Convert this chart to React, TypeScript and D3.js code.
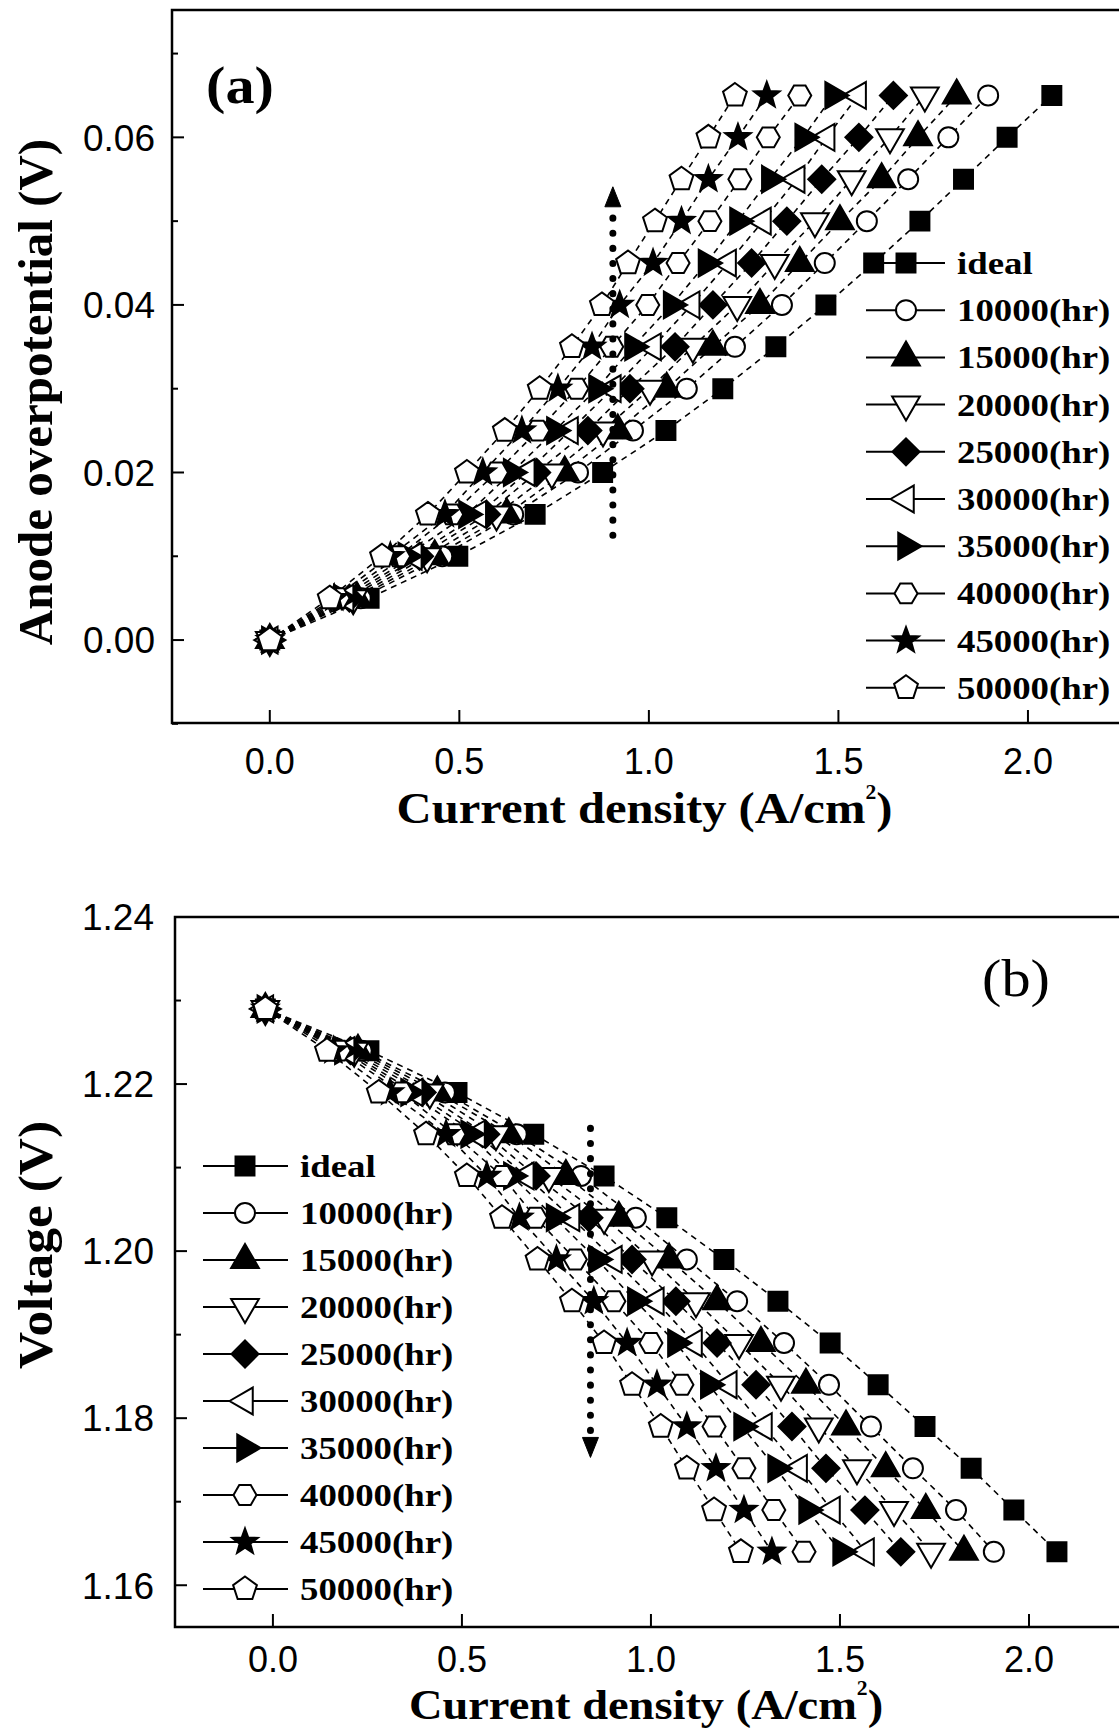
import * as d3 from "d3";

// ---- data ----
const seriesLabels = [
  "ideal",
  "10000(hr)",
  "15000(hr)",
  "20000(hr)",
  "25000(hr)",
  "30000(hr)",
  "35000(hr)",
  "40000(hr)",
  "45000(hr)",
  "50000(hr)",
];

// (a) anode overpotential levels (V)
const overpotentialLevels = [0, 0.005, 0.01, 0.015, 0.02, 0.025, 0.03, 0.035, 0.04, 0.045, 0.05, 0.055, 0.06, 0.065];

// (a) current density (A/cm2) of each series at those levels
const anodeIdeal = [0, 0.262, 0.496, 0.7, 0.878, 1.045, 1.195, 1.335, 1.467, 1.593, 1.715, 1.83, 1.945, 2.063];
const anode10000 = [0, 0.24, 0.455, 0.642, 0.813, 0.958, 1.1, 1.227, 1.351, 1.464, 1.575, 1.684, 1.79, 1.895];
const anode15000 = [0, 0.23, 0.435, 0.625, 0.778, 0.918, 1.047, 1.169, 1.293, 1.398, 1.504, 1.614, 1.71, 1.812];
const anode20000 = [0, 0.22, 0.415, 0.598, 0.744, 0.879, 1.003, 1.116, 1.233, 1.332, 1.438, 1.535, 1.636, 1.728];
const anode25000 = [0, 0.21, 0.395, 0.572, 0.704, 0.839, 0.95, 1.069, 1.169, 1.271, 1.364, 1.456, 1.554, 1.645];
const anode30000 = [0, 0.2, 0.38, 0.55, 0.678, 0.792, 0.905, 1.011, 1.113, 1.209, 1.301, 1.39, 1.469, 1.552];
const anode35000 = [0, 0.19, 0.36, 0.52, 0.638, 0.752, 0.863, 0.958, 1.06, 1.152, 1.235, 1.319, 1.407, 1.486];
const anode40000 = [0, 0.18, 0.34, 0.48, 0.598, 0.707, 0.81, 0.902, 0.997, 1.077, 1.161, 1.24, 1.315, 1.398];
const anode45000 = [0, 0.17, 0.318, 0.462, 0.562, 0.665, 0.76, 0.85, 0.923, 1.011, 1.086, 1.157, 1.235, 1.311];
const anode50000 = [0, 0.158, 0.296, 0.417, 0.52, 0.62, 0.712, 0.797, 0.876, 0.945, 1.016, 1.086, 1.157, 1.227];

// (b) cell voltage levels (V)
const voltageLevels = [1.229, 1.224, 1.219, 1.214, 1.209, 1.204, 1.199, 1.194, 1.189, 1.184, 1.179, 1.174, 1.169, 1.164];

const cellIdeal = [-0.02, 0.254, 0.487, 0.69, 0.876, 1.042, 1.193, 1.336, 1.474, 1.601, 1.725, 1.847, 1.96, 2.074];
const cell10000 = [-0.02, 0.235, 0.455, 0.645, 0.815, 0.96, 1.095, 1.228, 1.352, 1.471, 1.582, 1.693, 1.807, 1.907];
const cell15000 = [-0.02, 0.225, 0.435, 0.624, 0.775, 0.915, 1.048, 1.175, 1.291, 1.41, 1.516, 1.621, 1.727, 1.828];
const cell20000 = [-0.02, 0.215, 0.415, 0.59, 0.73, 0.876, 1.003, 1.119, 1.233, 1.344, 1.444, 1.545, 1.643, 1.741];
const cell25000 = [-0.02, 0.205, 0.395, 0.563, 0.696, 0.836, 0.95, 1.066, 1.175, 1.278, 1.373, 1.463, 1.566, 1.661];
const cell30000 = [-0.02, 0.195, 0.375, 0.54, 0.669, 0.79, 0.902, 1.013, 1.114, 1.206, 1.299, 1.392, 1.479, 1.569];
const cell35000 = [-0.02, 0.185, 0.36, 0.519, 0.632, 0.745, 0.857, 0.96, 1.066, 1.153, 1.241, 1.331, 1.413, 1.503];
const cell40000 = [-0.02, 0.175, 0.34, 0.479, 0.606, 0.695, 0.8, 0.902, 1.0, 1.082, 1.167, 1.246, 1.325, 1.405];
const cell45000 = [-0.02, 0.16, 0.31, 0.458, 0.566, 0.652, 0.75, 0.849, 0.937, 1.016, 1.095, 1.172, 1.246, 1.32];
const cell50000 = [-0.02, 0.143, 0.28, 0.405, 0.513, 0.606, 0.7, 0.791, 0.876, 0.95, 1.026, 1.095, 1.167, 1.238];

const anodeSeries = [anodeIdeal, anode10000, anode15000, anode20000, anode25000, anode30000, anode35000, anode40000, anode45000, anode50000];
const cellSeries = [cellIdeal, cell10000, cell15000, cell20000, cell25000, cell30000, cell35000, cell40000, cell45000, cell50000];

const xTicks = [0, 0.5, 1.0, 1.5, 2.0];
const anodeTicks = [0, 0.02, 0.04, 0.06];
const anodeMinor = [-0.01, 0.01, 0.03, 0.05, 0.07];
const voltTicks = [1.16, 1.18, 1.2, 1.22, 1.24];
const voltMinor = [1.17, 1.19, 1.21, 1.23];

// dotted arrows: [x, from, to]
const arrowA = [0.905, 0.0125, 0.0541];
const arrowB = [0.84, 1.2147, 1.1753];

// ---- styling ----
const SERIF = "'Liberation Serif', 'Times New Roman', serif";
const SANS = "'Liberation Sans', Arial, sans-serif";

// marker kind per series, filled or open
const markerKinds = ["square", "circle", "triUp", "triDown", "diamond", "triLeft", "triRight", "hexagon", "star", "pentagon"];
const markerFilled = [true, false, true, false, true, false, true, false, true, false];

function polygon(n: number, r: number, start: number) {
  const pts = d3.range(n).map(i => {
    const a = start + (i * 2 * Math.PI) / n;
    return [r * Math.cos(a), r * Math.sin(a)];
  });
  return "M" + pts.map(p => p[0].toFixed(2) + "," + p[1].toFixed(2)).join("L") + "Z";
}

function starPath(ro: number, ri: number) {
  const pts = d3.range(10).map(i => {
    const r = i % 2 === 0 ? ro : ri;
    const a = -Math.PI / 2 + (i * Math.PI) / 5;
    return [r * Math.cos(a), r * Math.sin(a)];
  });
  return "M" + pts.map(p => p[0].toFixed(2) + "," + p[1].toFixed(2)).join("L") + "Z";
}

function markerPath(kind: string) {
  switch (kind) {
    case "square":
      return polygon(4, 13.4, Math.PI / 4);
    case "circle":
      return d3.symbol(d3.symbolCircle, Math.PI * 10 * 10)() as string;
    case "triUp":
      return polygon(3, 16, -Math.PI / 2);
    case "triDown":
      return polygon(3, 16, Math.PI / 2);
    case "diamond":
      return polygon(4, 13.5, 0);
    case "triLeft":
      return polygon(3, 15.5, Math.PI);
    case "triRight":
      return polygon(3, 15.5, 0);
    case "hexagon":
      return polygon(6, 11.5, 0);
    case "star":
      return starPath(13.5, 5.6);
    default:
      return polygon(5, 12.5, -Math.PI / 2);
  }
}

function Marker({ x, y, i }: { x: number; y: number; i: number }) {
  return (
    <path
      d={markerPath(markerKinds[i])}
      transform={`translate(${x},${y})`}
      fill={markerFilled[i] ? "#000" : "#fff"}
      stroke="#000"
      strokeWidth={2}
      strokeLinejoin="miter"
    />
  );
}

type PanelProps = {
  box: { left: number; right: number; top: number; bottom: number };
  xDomain: [number, number];
  yDomain: [number, number];
  levels: number[];
  series: number[][];
  yTicks: number[];
  yMinor: number[];
  yFormat: (v: number) => string;
  yLabelRight: number;
  yTitle: string;
  yTitleY: number;
  yTitleScale: number;
  xLabelBase: number;
  xTitleBase: number;
  xTitleSize: number;
  legend: { x1: number; x2: number; mx: number; tx: number; y0: number; dy: number };
  arrow: number[];
  arrowUp: boolean;
  tag: string;
  tagPos: [number, number];
  tagBold: boolean;
};

function Panel(p: PanelProps) {
  const { box } = p;
  const x = d3.scaleLinear().domain(p.xDomain).range([box.left, box.right]);
  const y = d3.scaleLinear().domain(p.yDomain).range([box.bottom, box.top]);
  const line = d3
    .line<number>()
    .x(d => x(d))
    .y((_, i) => y(p.levels[i]));

  const ax = x(p.arrow[0]);
  const ay1 = y(p.arrow[1]);
  const ayTip = y(p.arrow[2]);
  const headH = 20;
  const ayBase = p.arrowUp ? ayTip + headH : ayTip - headH;

  const titleX = (box.left + 1125) / 2 - 4;

  return (
    <g>
      {/* frame */}
      <rect
        x={box.left}
        y={box.top}
        width={box.right - box.left}
        height={box.bottom - box.top}
        fill="none"
        stroke="#000"
        strokeWidth={2.5}
      />

      {/* ticks */}
      {xTicks.map(t => (
        <g key={"xt" + t}>
          <line x1={x(t)} x2={x(t)} y1={box.bottom} y2={box.bottom - 13} stroke="#000" strokeWidth={2} />
          <text x={x(t)} y={p.xLabelBase} textAnchor="middle" fontFamily={SANS} fontSize={36}>
            {t.toFixed(1)}
          </text>
        </g>
      ))}
      {p.yTicks.map(t => (
        <g key={"yt" + t}>
          <line x1={box.left} x2={box.left + 12} y1={y(t)} y2={y(t)} stroke="#000" strokeWidth={2} />
          <text
            x={p.yLabelRight}
            y={y(t)}
            dy="0.36em"
            textAnchor="end"
            fontFamily={SANS}
            fontSize={37}
          >
            {p.yFormat(t)}
          </text>
        </g>
      ))}
      {p.yMinor.map(t => (
        <line key={"ym" + t} x1={box.left} x2={box.left + 6} y1={y(t)} y2={y(t)} stroke="#000" strokeWidth={2} />
      ))}

      {/* dashed series lines */}
      {p.series.map((s, i) => (
        <path
          key={"l" + i}
          d={line(s) as string}
          fill="none"
          stroke="#000"
          strokeWidth={1.6}
          strokeDasharray="6 5"
        />
      ))}

      {/* markers */}
      {p.series.map((s, i) =>
        s.map((v, k) => <Marker key={"m" + i + "-" + k} x={x(v)} y={y(p.levels[k])} i={i} />)
      )}

      {/* dotted arrow */}
      <line
        x1={ax}
        x2={ax}
        y1={ay1}
        y2={ayBase}
        stroke="#000"
        strokeWidth={7}
        strokeDasharray="0.1 15"
        strokeLinecap="round"
      />
      <path d={`M${ax - 8},${ayBase}L${ax + 8},${ayBase}L${ax},${ayTip}Z`} fill="#000" stroke="#000" strokeWidth={1} />

      {/* legend */}
      {seriesLabels.map((lab, i) => {
        const ly = p.legend.y0 + i * p.legend.dy;
        return (
          <g key={"lg" + i}>
            <line x1={p.legend.x1} x2={p.legend.x2} y1={ly} y2={ly} stroke="#000" strokeWidth={2} />
            <Marker x={p.legend.mx} y={ly} i={i} />
            <text
              transform={`translate(${p.legend.tx},${ly + 11}) scale(1.15,1)`}
              fontFamily={SERIF}
              fontWeight="bold"
              fontSize={32}
            >
              {lab}
            </text>
          </g>
        );
      })}

      {/* panel tag */}
      <text
        transform={`translate(${p.tagPos[0]},${p.tagPos[1]}) scale(1.12,1)`}
        fontFamily={SERIF}
        fontWeight={p.tagBold ? "bold" : "normal"}
        fontSize={52}
      >
        {p.tag}
      </text>

      {/* axis titles */}
      <text
        transform={`translate(${titleX},${p.xTitleBase}) scale(1.08,1)`}
        textAnchor="middle"
        fontFamily={SERIF}
        fontWeight="bold"
        fontSize={p.xTitleSize}
      >
        Current density (A/cm
        <tspan fontSize={20} dy={-24}>
          2
        </tspan>
        <tspan dy={24}>)</tspan>
      </text>
      <text
        transform={`translate(52,${p.yTitleY}) rotate(-90) scale(${p.yTitleScale},1)`}
        textAnchor="middle"
        fontFamily={SERIF}
        fontWeight="bold"
        fontSize={49}
      >
        {p.yTitle}
      </text>
    </g>
  );
}

export default function App() {
  return (
    <div style={{ position: "absolute", left: 0, top: 0 }}>
      <svg width={1119} height={1733} viewBox="0 0 1119 1733" style={{ display: "block", background: "#fff" }}>
        <Panel
          box={{ left: 172, right: 1125, top: 10, bottom: 723 }}
          xDomain={[-0.258, 2.256]}
          yDomain={[-0.0099, 0.0752]}
          levels={overpotentialLevels}
          series={anodeSeries}
          yTicks={anodeTicks}
          yMinor={anodeMinor}
          yFormat={v => v.toFixed(2)}
          yLabelRight={155}
          yTitle="Anode overpotential (V)"
          yTitleY={392}
          yTitleScale={1}
          xLabelBase={774}
          xTitleBase={823}
          xTitleSize={45}
          legend={{ x1: 866, x2: 945, mx: 906, tx: 957, y0: 263, dy: 47.2 }}
          arrow={arrowA}
          arrowUp={true}
          tag="(a)"
          tagPos={[206, 103]}
          tagBold={true}
        />
        <Panel
          box={{ left: 175, right: 1125, top: 917, bottom: 1627 }}
          xDomain={[-0.259, 2.254]}
          yDomain={[1.155, 1.24]}
          levels={voltageLevels}
          series={cellSeries}
          yTicks={voltTicks}
          yMinor={voltMinor}
          yFormat={v => v.toFixed(2)}
          yLabelRight={154}
          yTitle="Voltage (V)"
          yTitleY={1245}
          yTitleScale={1.05}
          xLabelBase={1672}
          xTitleBase={1719}
          xTitleSize={43}
          legend={{ x1: 203, x2: 288, mx: 245, tx: 300, y0: 1166, dy: 47 }}
          arrow={arrowB}
          arrowUp={false}
          tag="(b)"
          tagPos={[982, 996]}
          tagBold={false}
        />
      </svg>
    </div>
  );
}
